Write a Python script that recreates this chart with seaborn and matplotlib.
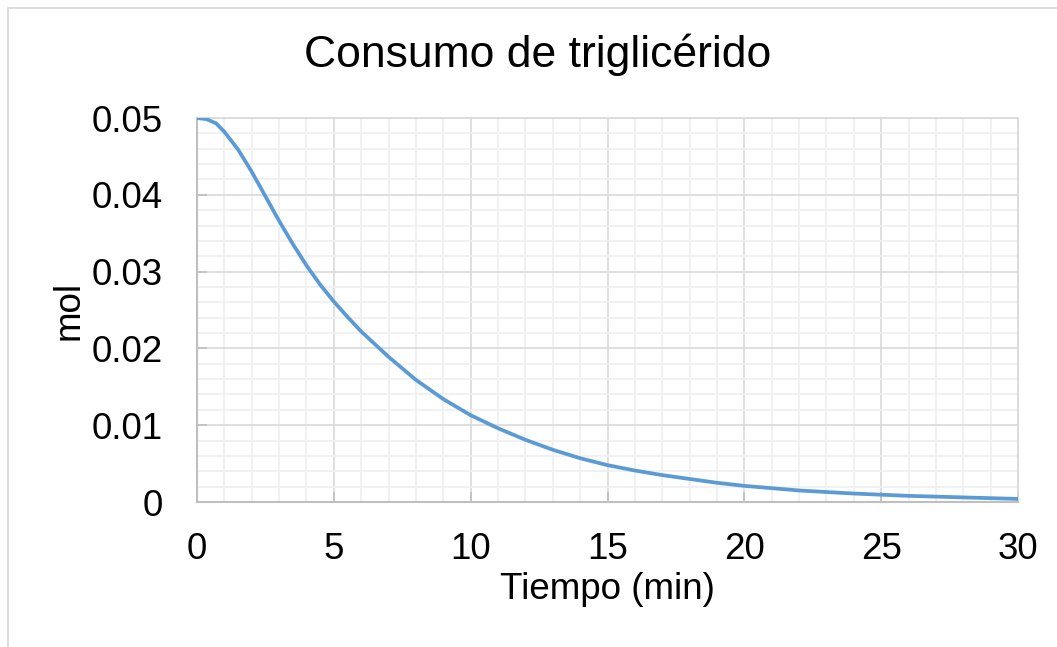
import matplotlib
matplotlib.use("Agg")
import matplotlib.pyplot as plt
import seaborn as sns
import pandas as pd
from matplotlib.ticker import MultipleLocator, FuncFormatter
from matplotlib.patches import Rectangle

# ---- data ----
tiempo = [0, 0.35, 0.7, 1.0, 1.5, 2, 2.5, 3, 3.5, 4, 4.5, 5, 5.5, 6, 7, 8, 9, 10,
          11, 12, 13, 14, 15, 16, 17, 18, 19, 20, 22, 24, 26, 28, 30]
mol = [0.0500, 0.04985, 0.0493, 0.0482, 0.0459, 0.0430, 0.0398, 0.0366,
       0.0336, 0.0308, 0.0283, 0.0261, 0.0241, 0.0222, 0.0189, 0.0159, 0.0134, 0.0113,
       0.0096, 0.0081, 0.0068, 0.0057, 0.0048, 0.0041, 0.0035, 0.0030,
       0.0025, 0.0021, 0.0015, 0.0011, 0.0008, 0.0006, 0.0004]
x_ticks = [0, 5, 10, 15, 20, 25, 30]
y_ticks = [0, 0.01, 0.02, 0.03, 0.04, 0.05]
title = "Consumo de triglicérido"
x_label = "Tiempo (min)"
y_label = "mol"

df = pd.DataFrame({"Tiempo": tiempo, "mol": mol})

sns.set_theme(style="white")
plt.rcParams['font.family'] = ['Liberation Sans', 'DejaVu Sans']

W, H = 1057, 647
fig = plt.figure(figsize=(W / 100, H / 100), dpi=100)
ax = fig.add_axes([197 / W, (H - 502) / H, (1018 - 197) / W, (502 - 118) / H])

# border of the chart area (only left and top visible in reference)
fig.patches.append(Rectangle((8 / W, -0.1), 1.2, (H - 7.5) / H + 0.1,
                             transform=fig.transFigure, fill=False,
                             edgecolor="#d9d9d9", linewidth=1.3))

sns.lineplot(data=df, x="Tiempo", y="mol", ax=ax, color="#5B9BD5",
             linewidth=2.7, zorder=5)

ax.set_xlim(0, 30)
ax.set_ylim(0, 0.05)
ax.xaxis.set_minor_locator(MultipleLocator(1))
ax.yaxis.set_minor_locator(MultipleLocator(0.002))
ax.set_xticks(x_ticks)
ax.set_yticks(y_ticks)
ax.yaxis.set_major_formatter(FuncFormatter(lambda v, p: "0" if abs(v) < 1e-12 else f"{v:.2f}"))
ax.xaxis.set_major_formatter(FuncFormatter(lambda v, p: f"{v:g}"))

ax.grid(which="major", color="#d9d9d9", linewidth=1.2, zorder=1)
ax.grid(which="minor", color="#f0f0f0", linewidth=1.3, zorder=0)
ax.set_axisbelow(True)

for s in ["top", "right"]:
    ax.spines[s].set_color("#d9d9d9")
    ax.spines[s].set_linewidth(1.2)
for s in ["left", "bottom"]:
    ax.spines[s].set_color("#bfbfbf")
    ax.spines[s].set_linewidth(1.5)

ax.tick_params(which="major", direction="in", length=7.5, width=1.2,
               color="#bfbfbf", labelsize=26.5, labelcolor="black")
ax.tick_params(which="minor", length=0)
ax.tick_params(axis="x", pad=21.5)
ax.tick_params(axis="y", pad=24.5)
ax.tick_params(axis="x", which="major", top=False, bottom=True)
ax.tick_params(axis="y", which="major", left=True, right=False)

ax.set_xlabel(x_label, fontsize=26.5, labelpad=4, color="black")
ax.set_ylabel(y_label, fontsize=26.5, labelpad=4, color="black")
fig.text(538 / W, 1 - 67 / H, title, fontsize=32, ha="center", va="baseline",
         color="black")

fig.savefig("out.png", dpi=100, facecolor="white")
